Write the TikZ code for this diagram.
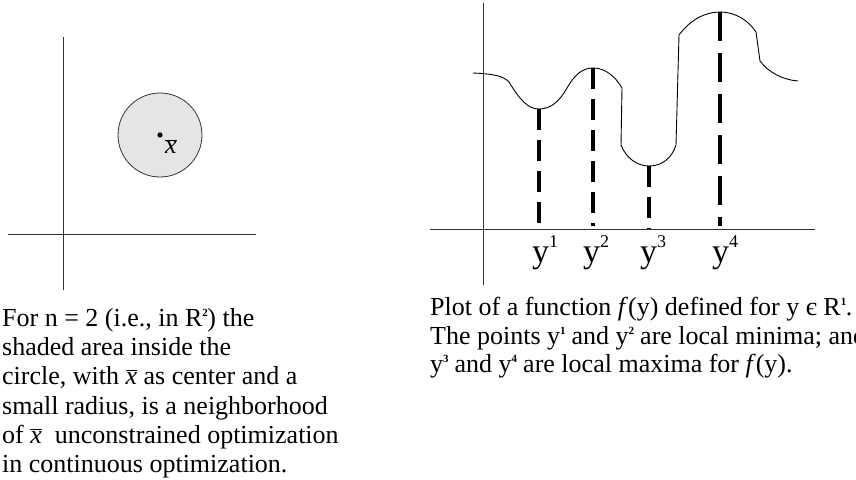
\documentclass[tikz,border=0pt]{standalone}
\usepackage{fontspec}
\setmainfont{Liberation Serif}
\newcommand\mysup[1]{\makebox[5pt][l]{\raisebox{0.8ex}{\fontsize{11}{11}\selectfont\textbf{#1}}}}
\newcommand\labsup[1]{\raisebox{15pt}{\fontsize{18}{18}\selectfont #1}}
\newcommand\xbar{$\overline{\textit{x}}$}
\begin{document}
\begin{tikzpicture}[x=1pt,y=-1pt,
  axis/.style={draw=black!80,line width=0.8pt},
  curve/.style={draw=black,line width=0.9pt},
  dropline/.style={draw=black,line width=3.2pt,dash pattern=on 21pt off 10pt},
  longdrop/.style={draw=black,line width=3.2pt,dash pattern=on 29pt off 12pt},
  captext/.style={anchor=base west,inner sep=0pt,font=\fontsize{26}{29}\selectfont},
  ylab/.style={anchor=base west,inner sep=0pt,font=\fontsize{34}{34}\selectfont}]
\useasboundingbox (0,0) rectangle (856,479);
% ---------- left panel ----------
\coordinate (lvT) at (63,37); \coordinate (lvB) at (63,290);
\coordinate (lhL) at (8,234); \coordinate (lhR) at (256,234);
\draw[axis] (lvT) -- (lvB);
\draw[axis] (lhL) -- (lhR);
\node[circle,draw=black!80,line width=0.8pt,fill=black!10,minimum size=84pt,inner sep=0pt] (nbhd) at (160,135) {};
\fill (nbhd.center) circle (2.6pt);
\node[inner sep=0pt,font=\fontsize{26}{26}\selectfont] (xb) at (171,147) {\xbar};
\node[captext] (l1) at (2,326) {For n = 2 (i.e., in R\mysup{2}) the};
\node[captext] (l2) at (2,355) {shaded area inside the};
\node[captext] (l3) at (2,384) {circle, with \xbar{} as center and a};
\node[captext] (l4) at (2,414) {small radius, is a neighborhood};
\node[captext] (l5) at (2,443) {of \xbar\ \ unconstrained optimization};
\node[captext] (l6) at (2,472) {in continuous optimization.};
% ---------- right panel ----------
\coordinate (rvT) at (483,3); \coordinate (rvB) at (483,285);
\coordinate (rhL) at (430,229); \coordinate (rhR) at (815,229);
\draw[axis] (rvT) -- (rvB);
\draw[axis] (rhL) -- (rhR);
\coordinate (m1) at (539,109); \coordinate (a1) at (539,228);
\coordinate (m2) at (593,68);  \coordinate (a2) at (593,226);
\coordinate (m3) at (649,166); \coordinate (a3) at (649,229);
\coordinate (m4) at (720,12);  \coordinate (a4) at (720,226);
\draw[curve] (473,73) .. controls (495,74) and (503,76) .. (509,82)
  .. controls (520,100) and (528,109) .. (m1)
  .. controls (552,109) and (560,100) .. (567,88)
  .. controls (575,74) and (583,68) .. (m2)
  .. controls (605,68) and (615,76) .. (622,88)
  -- (621,145)
  .. controls (626,158) and (637,166) .. (m3)
  .. controls (662,166) and (672,158) .. (676,145)
  -- (679,35)
  .. controls (690,20) and (705,12) .. (m4)
  .. controls (735,12) and (748,20) .. (756,32)
  -- (760,61)
  .. controls (768,72) and (783,80) .. (798,81);
\draw[dropline] (m1) -- (a1);
\draw[dropline] (m2) -- (a2);
\draw[dropline] (m3) -- (a3);
\draw[longdrop] (m4) -- (a4);
\node[ylab] (y1) at (532,262) {y\labsup{1}};
\node[ylab] (y2) at (583,262) {y\labsup{2}};
\node[ylab] (y3) at (640,262) {y\labsup{3}};
\node[ylab] (y4) at (712,262) {y\labsup{4}};
\node[captext] (r1) at (430,315) {Plot of a function \textit{f}(y) defined for y є R\mysup{1}.};
\node[captext] (r2) at (430,344) {The points y\mysup{1} and y\mysup{2} are local minima; and};
\node[captext] (r3) at (430,372) {y\mysup{3} and y\mysup{4} are local maxima for \textit{f}(y).};
\end{tikzpicture}
\end{document}
